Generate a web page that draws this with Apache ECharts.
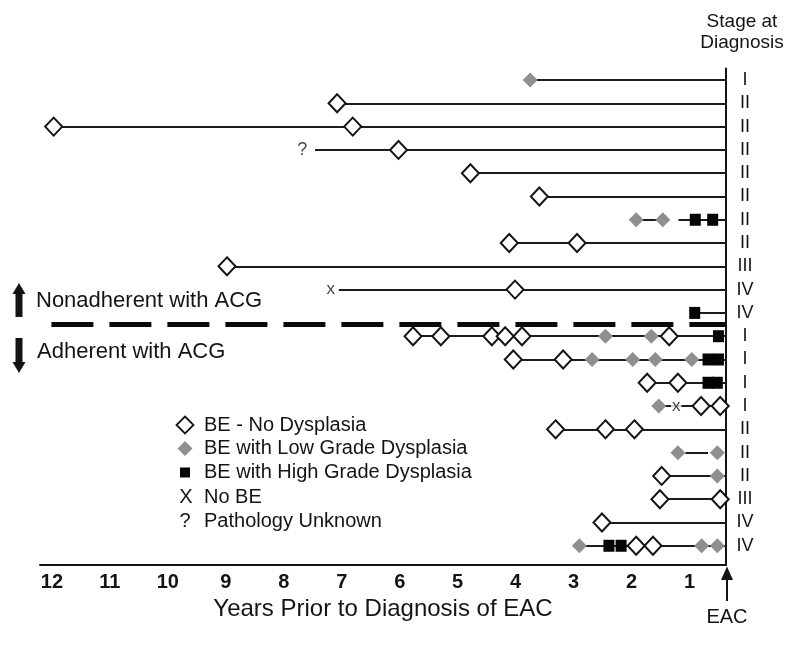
<!DOCTYPE html>
<html><head><meta charset="utf-8">
<script src="https://cdn.jsdelivr.net/npm/echarts@6/dist/echarts.min.js"></script>
<style>html,body{margin:0;padding:0;background:#fff}#c{width:800px;height:647px}</style>
</head><body><div id="c"></div>
<script>
// ---- data (x = years prior to EAC diagnosis, y = patient row 1..21) ----
const stages = ['I','II','II','II','II','II','II','II','III','IV','IV','I','I','I','I','II','II','II','III','IV','IV'];
const xTicks = [1,2,3,4,5,6,7,8,9,10,11,12];
const eacValue = 0.37;          // position of the EAC diagnosis line
const dividerRow = 11.5;        // between nonadherent and adherent groups
const noDysplasia = [
  [7.08,2],[11.97,3],[6.81,3],[6.02,4],[4.78,5],[3.59,6],[4.11,8],[2.94,8],[8.98,9],[4.01,10],
  [5.77,12],[5.29,12],[4.41,12],[4.18,12],[3.89,12],[1.35,12],
  [4.04,13],[3.18,13],[1.73,14],[1.20,14],[0.80,15],[0.47,15],
  [3.31,16],[2.45,16],[1.95,16],[1.48,18],[1.51,19],[0.47,19],[2.51,20],[1.92,21],[1.63,21]
];
const lowGrade = [
  [3.75,1],[1.92,7],[1.46,7],[2.45,12],[1.66,12],[2.68,13],[1.98,13],[1.59,13],[0.96,13],
  [1.53,15],[1.20,17],[0.52,17],[0.52,18],[2.90,21],[0.79,21],[0.52,21]
];
const highGrade = [
  [0.90,7],[0.60,7],[0.91,11],[0.50,12],[0.68,13],[0.50,13],[0.68,14],[0.52,14],[2.39,21],[2.18,21]
];
const noBE = [[7.19,10],[1.23,15]];
const unknown = [[7.68,4]];
// follow-up lines: [row, from, to]
const segments = [
  [1,3.75,0.37],[2,7.08,0.37],[3,11.97,0.37],[4,7.46,0.37],[5,4.78,0.37],[6,3.59,0.37],
  [7,1.92,1.46],[7,1.19,0.37],[8,4.11,0.37],[9,8.98,0.37],[10,7.05,0.37],[11,0.91,0.37],
  [12,5.77,0.37],[13,4.04,0.37],[14,1.73,0.37],[15,1.53,0.37],[16,3.31,0.37],[17,1.07,0.68],
  [18,1.48,0.37],[19,1.51,0.37],[20,2.51,0.37],[21,2.90,0.37]
];
const legendItems = ['BE - No Dysplasia','BE with Low Grade Dysplasia','BE with High Grade Dysplasia','No BE','Pathology Unknown'];

const FONT = "'Liberation Sans', Arial, sans-serif";
const INK = '#141414';
const GRAY = '#8f8f8f';

const chart = echarts.init(document.getElementById('c'), null, {renderer:'canvas'});
const option = {
  animation: false,
  backgroundColor: '#fff',
  textStyle: {fontFamily: FONT, color: INK},
  grid: {left: 40, right: 74, top: 68.4, bottom: 82.6, outerBoundsMode: 'none'},
  xAxis: {
    type: 'value', inverse: true, min: eacValue, max: 12.206,
    axisLine: {show: true, lineStyle: {color: INK, width: 2}},
    axisTick: {show: false}, splitLine: {show: false},
    axisLabel: {customValues: xTicks, margin: 8, fontSize: 20, fontWeight: 'bold', color: INK, fontFamily: FONT},
    name: 'Years Prior to Diagnosis of EAC', nameLocation: 'middle', nameGap: 33,
    nameTextStyle: {fontSize: 24, color: INK, fontFamily: FONT}
  },
  yAxis: {
    type: 'value', inverse: true, min: 0.5, max: 21.8, position: 'right',
    axisLine: {show: true, lineStyle: {color: INK, width: 2}},
    axisTick: {show: false}, splitLine: {show: false},
    axisLabel: {customValues: stages.map((s,i)=>i+1), margin: 19, align: 'center', fontSize: 18, color: INK, fontFamily: FONT,
      formatter: v => stages[Math.round(v)-1] || ''}
  },
  series: [
    {type: 'lines', coordinateSystem: 'cartesian2d', z: 1, silent: true,
     lineStyle: {color: '#1c1c1c', width: 2, opacity: 1},
     data: segments.map(s => ({coords: [[s[1], s[0]], [s[2], s[0]]]}))},
    {type: 'line', z: 1, silent: true, clip: false, symbol: 'none',
     lineStyle: {color: '#0a0a0a', width: 5, type: [42,16], dashOffset: 40},
     data: [[12.32, dividerRow],[eacValue, dividerRow]]},
    {name: legendItems[0], type: 'scatter', z: 3, symbol: 'diamond', symbolSize: [17,18],
     itemStyle: {color: '#fff', borderColor: INK, borderWidth: 2, opacity: 1}, data: noDysplasia},
    {name: legendItems[1], type: 'scatter', z: 3, symbol: 'diamond', symbolSize: [15,15],
     itemStyle: {color: GRAY, opacity: 1}, data: lowGrade},
    {name: legendItems[2], type: 'scatter', z: 3, symbol: 'rect', symbolSize: [11,12],
     itemStyle: {color: '#050505', opacity: 1}, data: highGrade},
    {name: legendItems[3], type: 'scatter', z: 4, symbolSize: 1, itemStyle: {color: 'rgba(0,0,0,0)'},
     label: {show: true, position: 'inside', formatter: 'x', fontSize: 17, color: INK, fontFamily: FONT,
       backgroundColor: '#fff', padding: [0,1]}, data: noBE},
    {name: legendItems[4], type: 'scatter', z: 4, symbolSize: 1, itemStyle: {color: 'rgba(0,0,0,0)'},
     label: {show: true, position: 'inside', formatter: '?', fontSize: 18, color: INK, fontFamily: FONT}, data: unknown}
  ]
};
chart.setOption(option);

// ---- annotations ----
const ex = chart.convertToPixel({xAxisIndex: 0}, eacValue);
const legendY = [425, 448.5, 472.5, 497, 521];
const lx = 185, tx = 204;
const g = [
  {type:'text', style:{text:'Stage at\nDiagnosis', x: 742, y: 32.5, align:'center', verticalAlign:'middle', lineHeight: 21, font: '19px ' + FONT, fill: INK}},
  // EAC arrow
  {type:'polygon', shape:{points:[[ex+1,566.5],[ex+7,580],[ex-5,580]]}, style:{fill: INK}},
  {type:'rect', shape:{x: ex, y: 578, width: 2, height: 23}, style:{fill: INK}},
  {type:'text', style:{text:'EAC', x: ex+1, y: 617, align:'center', verticalAlign:'middle', font: '20px ' + FONT, fill: INK}},
  // group labels with arrows
  {type:'polygon', shape:{points:[[19,283],[25.5,294],[12.5,294]]}, style:{fill: INK}},
  {type:'rect', shape:{x: 15.5, y: 292, width: 7, height: 25}, style:{fill: INK}},
  {type:'text', style:{text:'Nonadherent with ACG', x: 36, y: 301, verticalAlign:'middle', font: '22px ' + FONT, fill: INK}},
  {type:'polygon', shape:{points:[[12.5,362],[25.5,362],[19,373]]}, style:{fill: INK}},
  {type:'rect', shape:{x: 15.5, y: 338, width: 7, height: 25}, style:{fill: INK}},
  {type:'text', style:{text:'Adherent with ACG', x: 37, y: 352, verticalAlign:'middle', font: '22px ' + FONT, fill: INK}},
  // legend
  {type:'polygon', shape:{points:[[lx,legendY[0]-8.5],[lx+8.5,legendY[0]],[lx,legendY[0]+8.5],[lx-8.5,legendY[0]]]}, style:{fill:'#fff', stroke: INK, lineWidth: 1.8}},
  {type:'polygon', shape:{points:[[lx,legendY[1]-7.5],[lx+7.5,legendY[1]],[lx,legendY[1]+7.5],[lx-7.5,legendY[1]]]}, style:{fill: GRAY}},
  {type:'rect', shape:{x: lx-5, y: legendY[2]-5, width: 10, height: 10}, style:{fill: '#050505'}},
  {type:'text', style:{text:'X', x: lx+1, y: legendY[3], align:'center', verticalAlign:'middle', font: '20px ' + FONT, fill: INK}},
  {type:'text', style:{text:'?', x: lx, y: legendY[4], align:'center', verticalAlign:'middle', font: '20px ' + FONT, fill: INK}}
];
legendItems.forEach((t,i) => g.push({type:'text', style:{text: t, x: tx, y: legendY[i], verticalAlign:'middle', font: '20px ' + FONT, fill: INK}}));
chart.setOption({graphic: {elements: g}});
</script></body></html>
